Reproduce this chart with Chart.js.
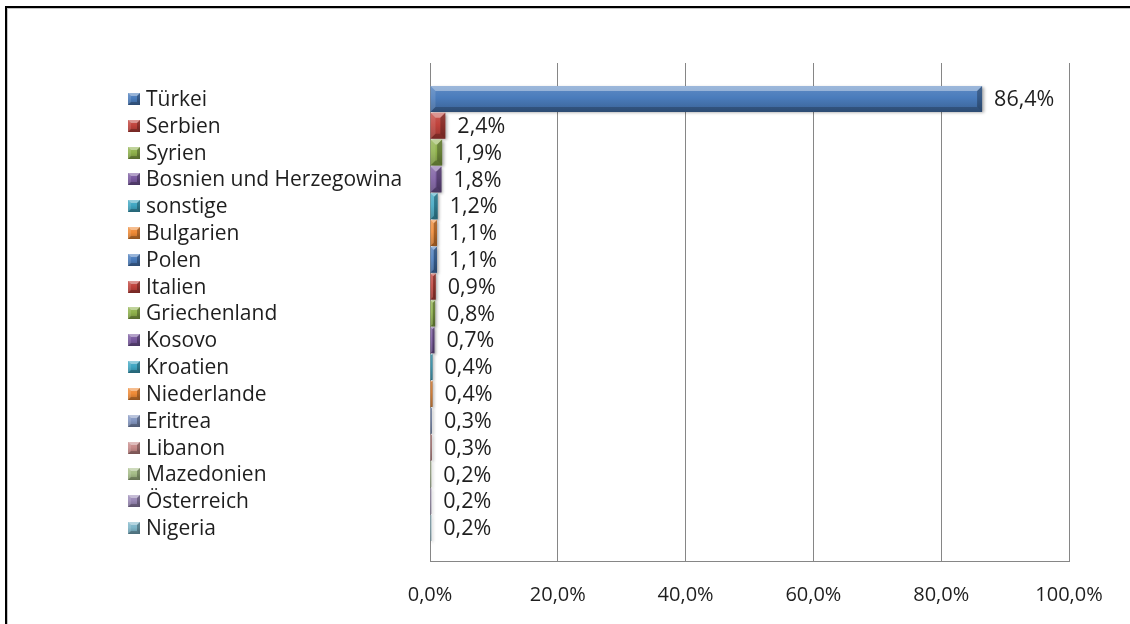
<!DOCTYPE html>
<html>
<head>
<meta charset="utf-8">
<title>Staatsangehörigkeit</title>
<script src="https://cdn.jsdelivr.net/npm/chart.js@4.4.1/dist/chart.umd.min.js"></script>
<style>
  html, body { margin: 0; padding: 0; background: #fff; }
  body { width: 1130px; height: 624px; position: relative; overflow: hidden; }
  .frame {
    position: absolute; left: 5px; top: 6px; width: 1200px; height: 700px;
    border-left: 2px solid #000; border-top: 2px solid #000;
    box-shadow: inset 1px 1px 0 #c4c4c4;
  }
  #wrap { position: absolute; left: 0; top: 0; width: 1130px; height: 624px; }
</style>
</head>
<body>
<div class="frame"></div>
<div id="wrap"><canvas id="chart" width="1130" height="624"></canvas></div>
<script>
const countries = [
  'Türkei', 'Serbien', 'Syrien', 'Bosnien und Herzegowina', 'sonstige',
  'Bulgarien', 'Polen', 'Italien', 'Griechenland', 'Kosovo', 'Kroatien',
  'Niederlande', 'Eritrea', 'Libanon', 'Mazedonien', 'Österreich', 'Nigeria'
];
const shares = [86.4, 2.4, 1.9, 1.8, 1.2, 1.1, 1.1, 0.9, 0.8, 0.7, 0.4, 0.4, 0.3, 0.3, 0.2, 0.2, 0.2];
const barColors = [
  '#4a7cbc', '#c0433c', '#8fb24c', '#7a5aa0', '#3fa6c2', '#ef8a36',
  '#4a7cbc', '#c0433c', '#8fb24c', '#7a5aa0', '#3fa6c2', '#ef8a36',
  '#8497c2', '#c78a89', '#a6bd88', '#9a89b6', '#7db5c8'
];
const xTicks = [0, 20, 40, 60, 80, 100];

const NAME_FONT = '21px "Open Sans"';
const VALUE_FONT = '21.5px "Open Sans"';
const TEXT = '#1e1e1e';

const pct = v => v.toFixed(1).replace('.', ',') + '%';

function shade(hex, f) {
  const n = parseInt(hex.slice(1), 16);
  let r = n >> 16, g = (n >> 8) & 255, b = n & 255;
  const mix = c => f >= 0 ? Math.round(c + (255 - c) * f) : Math.round(c * (1 + f));
  return `rgb(${mix(r)},${mix(g)},${mix(b)})`;
}

function bodyGradient(ctx2d, base, top, bottom) {
  const g = ctx2d.createLinearGradient(0, top, 0, bottom);
  g.addColorStop(0, shade(base, 0.12));
  g.addColorStop(0.45, base);
  g.addColorStop(1, shade(base, -0.22));
  return g;
}

// bevelled edges: light top/left, dark bottom/right
function bevelFacets(ctx, x0, y0, x1, y1, maxB) {
  const b = Math.min(maxB, (x1 - x0) / 2, (y1 - y0) / 2);
  if (b <= 0.3) return;
  const poly = (pts, fill) => {
    ctx.beginPath();
    ctx.moveTo(pts[0][0], pts[0][1]);
    for (let k = 1; k < pts.length; k++) ctx.lineTo(pts[k][0], pts[k][1]);
    ctx.closePath();
    ctx.fillStyle = fill;
    ctx.fill();
  };
  poly([[x0, y0], [x1, y0], [x1 - b, y0 + b], [x0 + b, y0 + b]], 'rgba(255,255,255,0.38)');
  poly([[x0, y0], [x0 + b, y0 + b], [x0 + b, y1 - b], [x0, y1]], 'rgba(255,255,255,0.12)');
  poly([[x1, y0], [x1, y1], [x1 - b, y1 - b], [x1 - b, y0 + b]], 'rgba(0,0,0,0.28)');
  poly([[x0, y1], [x0 + b, y1 - b], [x1 - b, y1 - b], [x1, y1]], 'rgba(0,0,0,0.22)');
}

// each bar gets its own vertical gradient, placed from the index scale
function barFill(c) {
  const chart = c.chart;
  const y = chart.scales.y;
  const base = barColors[c.dataIndex];
  if (!y || c.type !== 'data') return base;
  const mid = y.getPixelForValue(c.dataIndex);
  const h = Math.abs(y.getPixelForValue(1) - y.getPixelForValue(0));
  if (!isFinite(mid) || !isFinite(h) || h === 0) return base;
  return bodyGradient(chart.ctx, base, mid - h / 2, mid + h / 2);
}

const barShading = {
  id: 'barShading',
  beforeDatasetsDraw(chart) {
    const ctx = chart.ctx;
    ctx.save();
    ctx.shadowColor = 'rgba(0,0,0,0.35)';
    ctx.shadowBlur = 3;
    ctx.shadowOffsetX = 1.5;
    ctx.shadowOffsetY = 1.5;
  },
  afterDatasetsDraw(chart) {
    const ctx = chart.ctx;
    ctx.restore();
    ctx.save();
    chart.getDatasetMeta(0).data.forEach(bar => {
      const h = bar.height;
      bevelFacets(ctx, bar.base, bar.y - h / 2, bar.x, bar.y + h / 2, 5);
    });
    ctx.restore();
  }
};

const sideLabels = {
  id: 'sideLabels',
  afterDatasetsDraw(chart) {
    const { ctx, scales: { y } } = chart;
    const meta = chart.getDatasetMeta(0);
    ctx.save();
    ctx.textBaseline = 'middle';
    ctx.textAlign = 'left';
    meta.data.forEach((bar, i) => {
      // value next to the bar end
      ctx.font = VALUE_FONT;
      ctx.fillStyle = TEXT;
      ctx.fillText(pct(shares[i]), bar.x + 12, bar.y + 1);

      // legend entry on the left
      const cy = y.getPixelForValue(i);
      const s = 12;
      const top = Math.round(cy - s / 2);
      ctx.fillStyle = bodyGradient(ctx, barColors[i], top, top + s);
      ctx.fillRect(128, top, s, s);
      bevelFacets(ctx, 128, top, 128 + s, top + s, 3);
      ctx.font = NAME_FONT;
      ctx.fillStyle = TEXT;
      ctx.fillText(countries[i], 146, cy + 1);
    });
    ctx.restore();
  }
};

new Chart(document.getElementById('chart'), {
  type: 'bar',
  data: {
    datasets: [{
      data: shares.map((v, i) => ({ x: v, y: i })),
      backgroundColor: barFill,
      borderWidth: 0,
      barPercentage: 0.97,
      categoryPercentage: 1
    }]
  },
  options: {
    indexAxis: 'y',
    responsive: false,
    animation: false,
    layout: { padding: { left: 430, right: 61, top: 63, bottom: 0 } },
    plugins: { legend: { display: false }, tooltip: { enabled: false } },
    scales: {
      x: {
        type: 'linear',
        min: 0,
        max: 100,
        afterBuildTicks: s => { s.ticks = xTicks.map(v => ({ value: v })); },
        afterFit: s => { s.height = 63; },
        grid: { color: '#868686', lineWidth: 1, drawTicks: false },
        border: { display: true, color: '#868686', width: 1 },
        ticks: {
          padding: 22,
          color: TEXT,
          font: { family: 'Open Sans', size: 20 },
          callback: v => pct(v),
          maxRotation: 0
        }
      },
      y: {
        type: 'linear',
        reverse: true,
        offset: false,
        min: -1.34,
        max: 17.23,
        display: false
      }
    }
  },
  plugins: [barShading, sideLabels]
});
</script>
</body>
</html>
